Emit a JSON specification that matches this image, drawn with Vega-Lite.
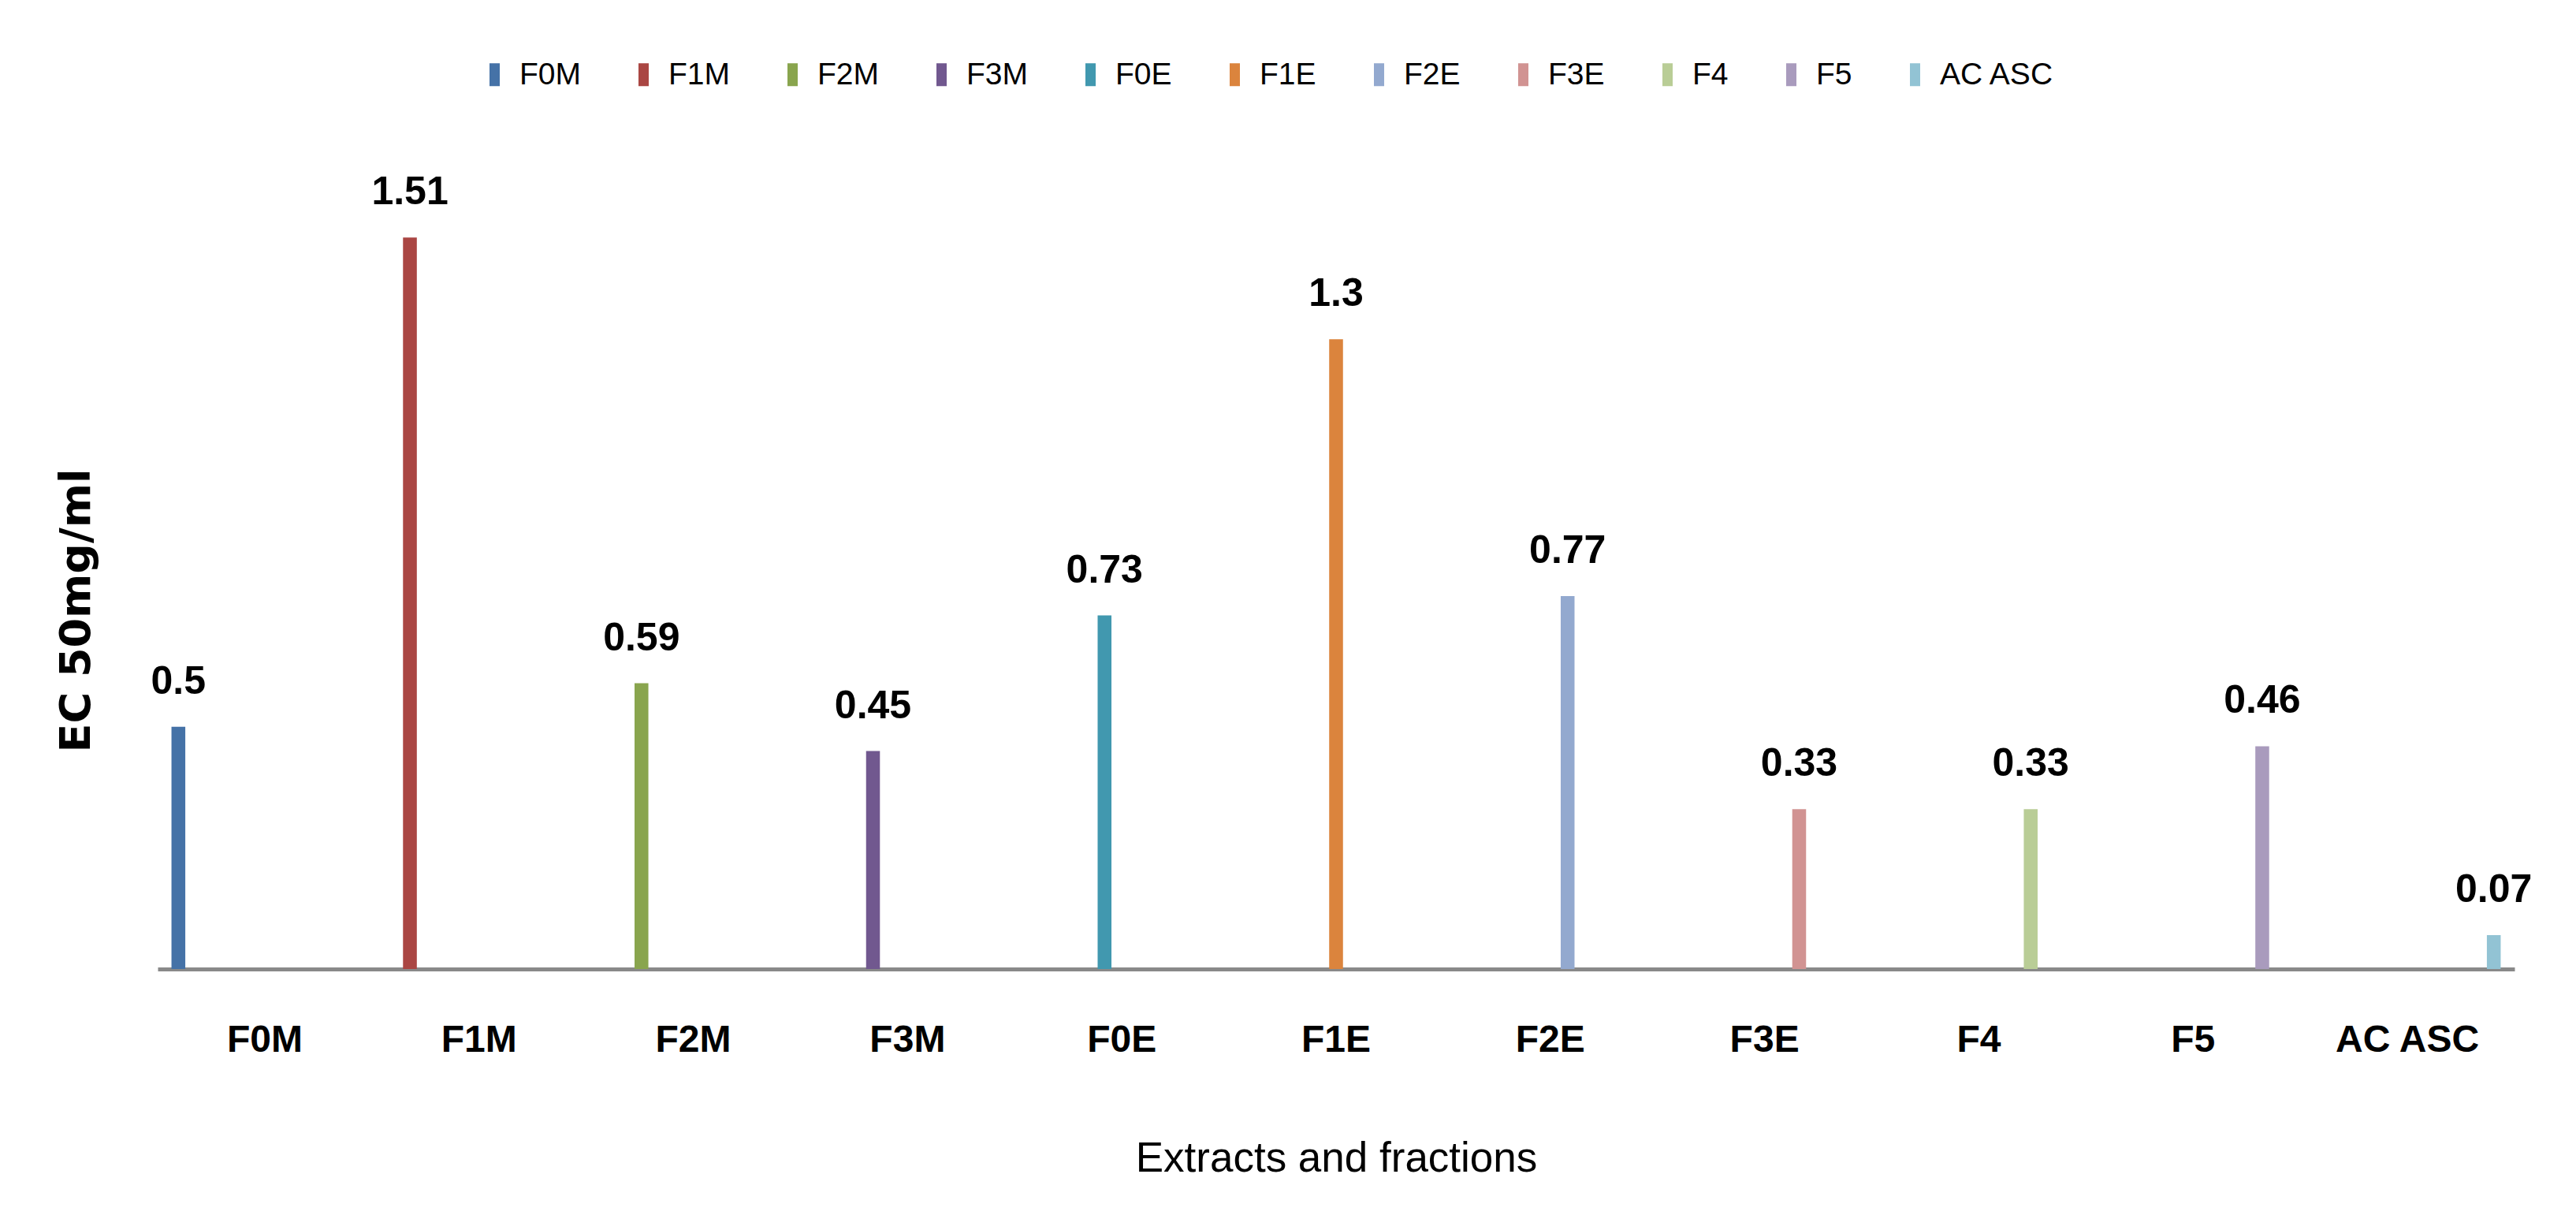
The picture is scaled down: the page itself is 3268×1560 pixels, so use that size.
{
  "$schema": "https://vega.github.io/schema/vega-lite/v6.json",
  "width": 2990,
  "height": 983,
  "autosize": {"type": "none"},
  "padding": {"left": 200, "top": 246, "right": 78, "bottom": 331},
  "background": "white",
  "config": {"view": {"stroke": null}, "font": "Liberation Sans"},
  "data": {
    "values": [
      {"sample": "F0M", "ec50": 0.5},
      {"sample": "F1M", "ec50": 1.51},
      {"sample": "F2M", "ec50": 0.59},
      {"sample": "F3M", "ec50": 0.45},
      {"sample": "F0E", "ec50": 0.73},
      {"sample": "F1E", "ec50": 1.3},
      {"sample": "F2E", "ec50": 0.77},
      {"sample": "F3E", "ec50": 0.33},
      {"sample": "F4", "ec50": 0.33},
      {"sample": "F5", "ec50": 0.46},
      {"sample": "AC ASC", "ec50": 0.07}
    ]
  },
  "encoding": {
    "x": {
      "field": "sample",
      "type": "nominal",
      "scale": {
        "domain": ["F0M", "F1M", "F2M", "F3M", "F0E", "F1E", "F2E", "F3E", "F4", "F5", "AC ASC"],
        "paddingInner": 0,
        "paddingOuter": 0
      },
      "axis": {
        "title": "Extracts and fractions",
        "titleFontSize": 53,
        "titleFontWeight": "normal",
        "titleColor": "black",
        "titlePadding": 100,
        "labelFontSize": 48,
        "labelFontWeight": "bold",
        "labelColor": "black",
        "labelAngle": 0,
        "labelPadding": 66,
        "labelLimit": 0,
        "ticks": false,
        "grid": false,
        "domainColor": "#898989",
        "domainWidth": 5
      }
    },
    "xOffset": {
      "field": "sample",
      "type": "nominal",
      "scale": {
        "domain": ["F0M", "F1M", "F2M", "F3M", "F0E", "F1E", "F2E", "F3E", "F4", "F5", "AC ASC"],
        "paddingInner": 0.2,
        "paddingOuter": 0.8
      }
    },
    "y": {
      "field": "ec50",
      "type": "quantitative",
      "scale": {"domain": [0, 1.6], "nice": false},
      "axis": {
        "title": "EC 50mg/ml",
        "titleFont": "DejaVu Sans",
        "titleFontSize": 54,
        "titleFontWeight": "bold",
        "titleColor": "black",
        "titlePadding": 76,
        "titleY": 528,
        "labels": false,
        "ticks": false,
        "domain": false,
        "grid": false
      }
    }
  },
  "layer": [
    {
      "mark": {"type": "bar"},
      "encoding": {
        "color": {
          "field": "sample",
          "type": "nominal",
          "scale": {
            "domain": ["F0M", "F1M", "F2M", "F3M", "F0E", "F1E", "F2E", "F3E", "F4", "F5", "AC ASC"],
            "range": ["#4572A7", "#AA4643", "#89A54E", "#71588F", "#4198AF", "#DB843D", "#93A9CF", "#D19392", "#B9CD96", "#A99BBD", "#92C3D4"]
          },
          "legend": {
            "orient": "none",
            "legendX": 408,
            "legendY": -171,
            "direction": "horizontal",
            "title": null,
            "symbolType": "M-0.45,-1H0.45V1H-0.45Z",
            "symbolSize": 841,
            "symbolStrokeWidth": 0,
            "labelFontSize": 39,
            "labelColor": "black",
            "labelOffset": 12,
            "labelLimit": 0,
            "columnPadding": 60,
            "padding": 0
          }
        }
      }
    },
    {
      "mark": {"type": "text", "baseline": "alphabetic", "dy": -42, "fontSize": 50, "fontWeight": "bold", "color": "black"},
      "encoding": {"text": {"field": "ec50", "type": "quantitative", "format": "~g"}}
    }
  ]
}
